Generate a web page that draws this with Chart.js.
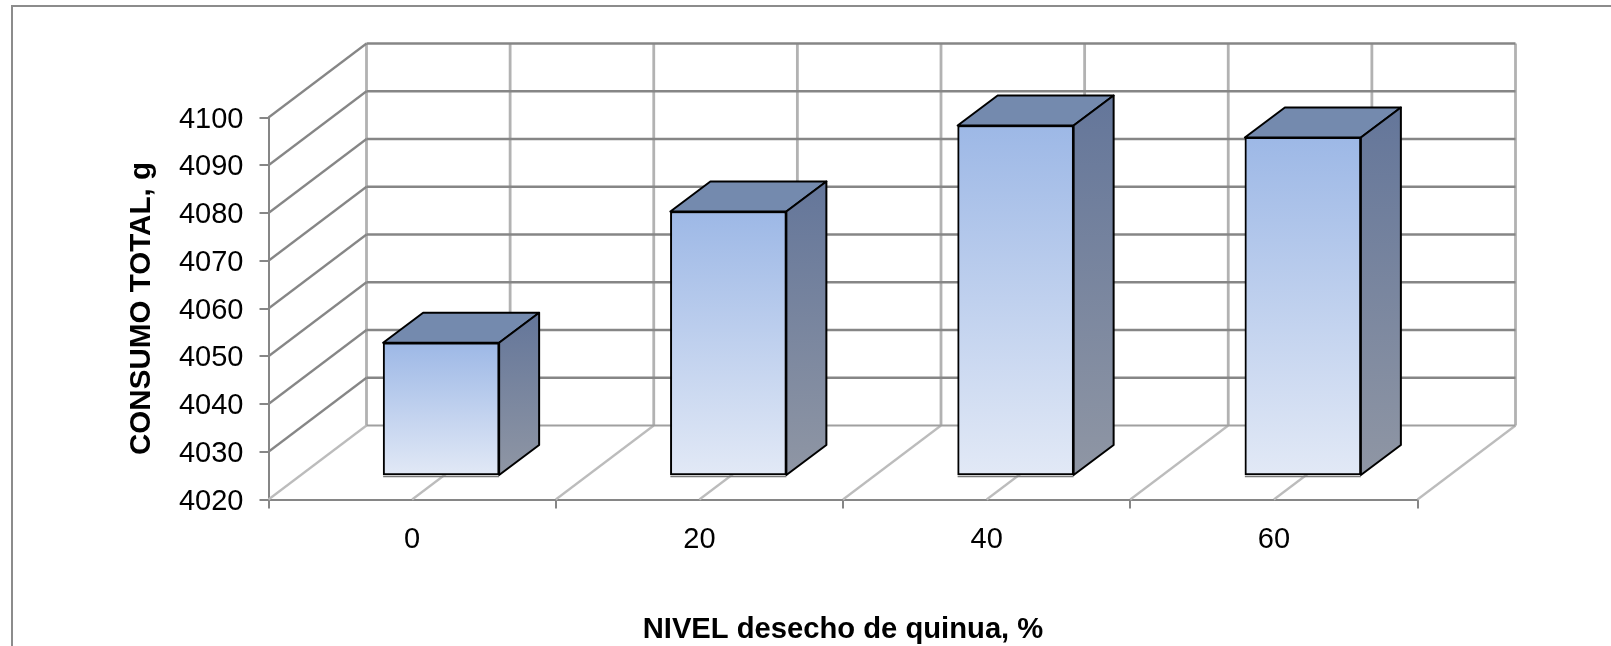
<!DOCTYPE html>
<html>
<head>
<meta charset="utf-8">
<title>Consumo total</title>
<style>
html, body { margin: 0; padding: 0; background: #fff; }
canvas { display: block; }
</style>
<script src="https://cdn.jsdelivr.net/npm/chart.js@4/dist/chart.umd.min.js"></script>
</head>
<body>
<canvas id="chart" width="1611" height="646"></canvas>
<script>
var categories = ["0", "20", "40", "60"];
var consumo = [4047.9, 4075.4, 4093.4, 4090.9];
var yMin = 4020,
    yMax = 4100,
    yStep = 10;

var AXIS_GREY = "#868686",
    WALL_GREY = "#b2b2b2";

// the box goes this far back into the picture
var WALL_DX = 98,
    WALL_DY = -74,
    BAR_SHIFT_X = 29,
    BAR_SHIFT_Y = -23.5,
    BAR_DX = 40,
    BAR_DY = -30;

function line(ctx, x1, y1, x2, y2, color, width) {
    ctx.beginPath();
    ctx.moveTo(x1, y1);
    ctx.lineTo(x2, y2);
    ctx.strokeStyle = color;
    ctx.lineWidth = width;
    ctx.stroke();
}

function drawWalls(chart) {
    var ctx = chart.ctx,
        area = chart.chartArea,
        yScale = chart.scales.y,
        xScale = chart.scales.x,
        half = (area.right - area.left) / categories.length / 2;

    // verticales y piso
    for (var i = 0; i <= categories.length * 2; i++) {
        var x = xScale.left + i * half;
        line(ctx, x + WALL_DX, area.top + WALL_DY, x + WALL_DX, area.bottom + WALL_DY, WALL_GREY, 2.8);
        line(ctx, x, area.bottom, x + WALL_DX, area.bottom + WALL_DY, "#bcbcbc", 2.2);
    }

    // horizontales y diagonales de la pared izquierda
    yScale.ticks.forEach(function(tick) {
        var y = yScale.getPixelForValue(tick.value),
            isBase = tick.value === yMin;
        line(ctx, area.left + WALL_DX, y + WALL_DY, area.right + WALL_DX, y + WALL_DY, isBase ? "#a0a0a0" : AXIS_GREY, isBase ? 2 : 2.6);
        if (!isBase) {
            line(ctx, area.left, y, area.left + WALL_DX, y + WALL_DY, AXIS_GREY, 2.2);
        }
    });
}

function drawBarFaces(chart) {
    var ctx = chart.ctx,
        meta = chart.getDatasetMeta(0);

    meta.data.forEach(function(bar) {
        var l = bar.x - bar.width / 2,
            r = bar.x + bar.width / 2,
            t = bar.y,
            b = bar.base,
            side = ctx.createLinearGradient(0, t + BAR_DY, 0, b);

        side.addColorStop(0, "#64769a");
        side.addColorStop(1, "#8f96a4");

        // sombra gris bajo la barra
        line(ctx, l, b + 1.5, r, b + 1.5, "#7a7a7a", 1.5);

        ctx.lineWidth = 2;
        ctx.strokeStyle = "#000";
        ctx.lineJoin = "round";

        ctx.beginPath();
        ctx.moveTo(l, t);
        ctx.lineTo(l + BAR_DX, t + BAR_DY);
        ctx.lineTo(r + BAR_DX, t + BAR_DY);
        ctx.lineTo(r, t);
        ctx.closePath();
        ctx.fillStyle = "#748aae";
        ctx.fill();
        ctx.stroke();

        ctx.beginPath();
        ctx.moveTo(r, t);
        ctx.lineTo(r + BAR_DX, t + BAR_DY);
        ctx.lineTo(r + BAR_DX, b + BAR_DY);
        ctx.lineTo(r, b);
        ctx.closePath();
        ctx.fillStyle = side;
        ctx.fill();
        ctx.stroke();
    });
}

var box3d = {
    id: "box3d",
    beforeDraw: function(chart) {
        var ctx = chart.ctx;
        ctx.save();
        ctx.fillStyle = "#fff";
        ctx.fillRect(0, 0, chart.width, chart.height);
        // marco del grafico, abierto por abajo y a la derecha
        ctx.strokeStyle = "#8c8c8c";
        ctx.lineWidth = 2;
        ctx.strokeRect(12, 6, chart.width + 20, chart.height + 20);
        ctx.restore();
    },
    beforeDatasetsDraw: function(chart) {
        var ctx = chart.ctx;
        ctx.save();
        drawWalls(chart);
        ctx.translate(BAR_SHIFT_X, BAR_SHIFT_Y);
        drawBarFaces(chart);
    },
    afterDatasetsDraw: function(chart) {
        chart.ctx.restore();
    }
};

function barGradient(context) {
    var chart = context.chart,
        scale = chart.scales.y;
    if (!chart.chartArea || context.raw === undefined) {
        return "#9fb9e6";
    }
    var g = chart.ctx.createLinearGradient(0, scale.getPixelForValue(context.raw), 0, scale.getPixelForValue(yMin));
    g.addColorStop(0, "#9db8e6");
    g.addColorStop(1, "#e2e9f6");
    return g;
}

new Chart(document.getElementById("chart").getContext("2d"), {
    type: "bar",
    data: {
        labels: categories,
        datasets: [{
            data: consumo,
            base: yMin,
            backgroundColor: barGradient,
            borderColor: "#000",
            borderWidth: 2,
            borderSkipped: false,
            barThickness: 116,
            clip: false
        }]
    },
    plugins: [box3d],
    options: {
        responsive: false,
        animation: false,
        layout: {
            padding: { top: 117.5, right: 193.5, left: 0, bottom: 0 }
        },
        plugins: {
            legend: { display: false },
            tooltip: { enabled: false }
        },
        scales: {
            x: {
                grid: {
                    drawOnChartArea: false,
                    color: AXIS_GREY,
                    lineWidth: 2,
                    tickLength: 9
                },
                border: { color: AXIS_GREY, width: 2 },
                ticks: {
                    color: "#000",
                    padding: 14,
                    maxRotation: 0,
                    font: { family: "Liberation Sans", size: 29 }
                },
                title: {
                    display: true,
                    text: "NIVEL desecho de quinua, %",
                    color: "#000",
                    padding: { top: 0, bottom: 0 },
                    font: { family: "Liberation Sans", size: 29.2, weight: "bold", lineHeight: 1.08 }
                },
                afterFit: function(scale) {
                    scale.height = 146.5;
                }
            },
            y: {
                min: yMin,
                max: yMax,
                grid: {
                    drawOnChartArea: false,
                    color: AXIS_GREY,
                    lineWidth: 2,
                    tickLength: 9
                },
                border: { color: AXIS_GREY, width: 2 },
                ticks: {
                    stepSize: yStep,
                    color: "#000",
                    padding: 16,
                    labelOffset: 2,
                    font: { family: "Liberation Sans", size: 29 },
                    callback: function(value) {
                        return String(value);
                    }
                },
                title: {
                    display: true,
                    text: "CONSUMO TOTAL, g",
                    color: "#000",
                    padding: { top: 124, bottom: 0 },
                    font: { family: "Liberation Sans", size: 29.6, weight: "bold" }
                },
                afterFit: function(scale) {
                    scale.width = 268.5;
                }
            }
        }
    }
});
</script>
</body>
</html>
